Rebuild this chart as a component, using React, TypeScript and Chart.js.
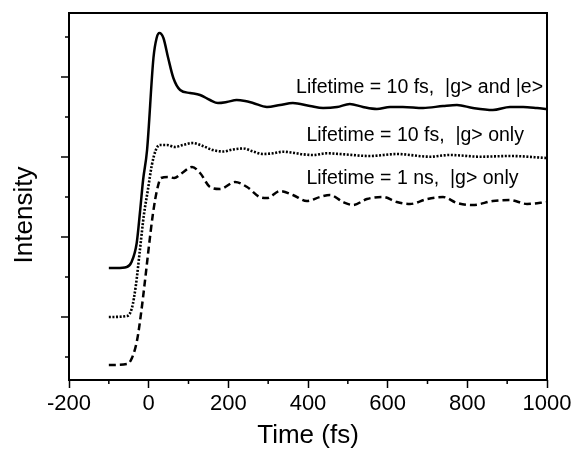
import React, { useEffect, useRef } from "react";
import { Chart, registerables } from "chart.js";

Chart.register(...registerables);

// Time axis (fs) and intensity values
const solidTime = [-100, -80, -55, -43, -30, -22, -14, -4, 12, 20, 27, 37, 49, 62, 79, 104, 129, 154, 174, 196, 221, 242, 262, 297, 330, 362, 405, 438, 473, 505, 538, 573, 606, 638, 689, 739, 774, 814, 864, 907, 940, 975, 1000];
const solidIntensity = [8.9, 8.9, 9.0, 9.5, 11.4, 14.4, 17.7, 20.7, 29.9, 31.9, 32.4, 31.9, 29.9, 27.9, 26.7, 26.4, 26.2, 25.7, 25.4, 25.5, 25.7, 25.6, 25.4, 25.0, 25.2, 25.4, 25.1, 24.9, 25.0, 25.3, 25.0, 24.8, 25.0, 25.0, 24.9, 25.1, 25.2, 24.9, 24.7, 25.0, 25.0, 24.9, 24.8];

const dottedTime = [-100, -54, -42, -32, -22, -12, -2, 8, 18, 28, 46, 66, 86, 111, 136, 161, 187, 212, 237, 262, 287, 312, 337, 362, 387, 412, 448, 480, 556, 623, 706, 756, 832, 907, 1000];
const dottedIntensity = [4.0, 4.1, 4.9, 7.2, 10.7, 14.2, 16.7, 19.2, 20.7, 21.2, 21.2, 21.0, 21.2, 21.4, 21.1, 20.7, 20.55, 20.75, 20.85, 20.55, 20.3, 20.37, 20.53, 20.43, 20.27, 20.2, 20.37, 20.3, 20.1, 20.3, 20.03, 20.2, 20.03, 20.1, 19.9];

const dashedTime = [-100, -54, -42, -29, -19, -9, 1, 11, 21, 31, 49, 64, 84, 109, 129, 154, 179, 217, 247, 279, 297, 330, 362, 397, 430, 455, 488, 513, 548, 588, 623, 656, 699, 739, 774, 814, 864, 907, 950, 1000];
const dashedIntensity = [-0.8, -0.7, -0.1, 1.7, 4.4, 7.7, 11.2, 14.4, 16.7, 17.9, 18.0, 17.9, 18.4, 19.0, 18.4, 17.0, 16.8, 17.5, 17.0, 16.0, 15.9, 16.6, 16.2, 15.6, 16.0, 16.2, 15.5, 15.2, 15.8, 16.0, 15.5, 15.3, 15.8, 16.0, 15.4, 15.2, 15.6, 15.7, 15.3, 15.5];

// Axis ticks
const xMinorTicks = [-100, 100, 300, 500, 700, 900];
const yMajorTicks = [4, 12, 20, 28];
const yMinorTicks = [0, 8, 16, 24, 32];

// Curve annotations (anchored in data coordinates)
const labelTexts = ["Lifetime = 10 fs,  |g> and |e>", "Lifetime = 10 fs,  |g> only", "Lifetime = 1 ns,  |g> only"];
const labelTime = [370, 396, 396];
const labelIntensity = [26.9, 22.1, 17.8];

const xTitle = "Time (fs)";
const yTitle = "Intensity";

const FONT = '"Liberation Sans", Arial, Helvetica, sans-serif';

const zip = (xs: number[], ys: number[]) => xs.map((x, i) => ({ x, y: ys[i] }));

const decorPlugin = {
  id: "decor",
  afterDraw(chart: any) {
    const { ctx, chartArea: a, scales } = chart;
    const xs = scales.x;
    const ys = scales.y;
    ctx.save();
    ctx.strokeStyle = "#000";
    ctx.lineWidth = 2;
    ctx.strokeRect(a.left, a.top, a.right - a.left, a.bottom - a.top);
    ctx.lineWidth = 1.5;
    ctx.beginPath();
    for (const v of xMinorTicks) {
      const px = xs.getPixelForValue(v);
      ctx.moveTo(px, a.bottom);
      ctx.lineTo(px, a.bottom + 4);
    }
    for (const v of yMajorTicks) {
      const py = ys.getPixelForValue(v);
      ctx.moveTo(a.left, py);
      ctx.lineTo(a.left - 8, py);
    }
    for (const v of yMinorTicks) {
      const py = ys.getPixelForValue(v);
      ctx.moveTo(a.left, py);
      ctx.lineTo(a.left - 4, py);
    }
    ctx.stroke();

    ctx.fillStyle = "#000";
    ctx.font = `19.5px ${FONT}`;
    ctx.textAlign = "left";
    ctx.textBaseline = "middle";
    labelTexts.forEach((t, i) => {
      ctx.fillText(t, xs.getPixelForValue(labelTime[i]), ys.getPixelForValue(labelIntensity[i]));
    });

    ctx.font = `26px ${FONT}`;
    ctx.textAlign = "center";
    ctx.fillText(xTitle, (a.left + a.right) / 2, 436);
    ctx.translate(25, 215);
    ctx.rotate(-Math.PI / 2);
    ctx.fillText(yTitle, 0, 0);
    ctx.restore();
  },
};

export default function App() {
  const ref = useRef<HTMLCanvasElement>(null);
  useEffect(() => {
    if (!ref.current) return;
    const line = { pointRadius: 0, borderColor: "#000", borderWidth: 2.5, cubicInterpolationMode: "monotone" as const, fill: false };
    const chart = new Chart(ref.current, {
      type: "line",
      data: {
        datasets: [
          { ...line, data: zip(solidTime, solidIntensity) },
          { ...line, borderWidth: 2.6, borderDash: [2, 1.6], data: zip(dottedTime, dottedIntensity) },
          { ...line, borderDash: [7, 4], data: zip(dashedTime, dashedIntensity) },
        ],
      },
      options: {
        animation: false,
        responsive: false,
        layout: { padding: { left: 0, top: 13, right: 24, bottom: 0 } },
        plugins: { legend: { display: false }, tooltip: { enabled: false } },
        scales: {
          x: {
            type: "linear",
            min: -200,
            max: 1000,
            ticks: {
              stepSize: 200,
              color: "#000",
              font: { size: 22, family: FONT },
              padding: 3,
              maxRotation: 0,
              autoSkip: false,
              callback: (v: any) => String(v),
            },
            grid: { display: true, drawOnChartArea: false, drawTicks: true, tickLength: 8, tickWidth: 1.5, tickColor: "#000" },
            border: { display: false },
            afterFit: (s: any) => {
              s.height = 69;
              s.paddingLeft = 0;
              s.paddingRight = 0;
            },
          },
          y: {
            type: "linear",
            min: -2.3,
            max: 34.4,
            ticks: { display: false },
            grid: { display: false },
            border: { display: false },
            afterFit: (s: any) => {
              s.width = 69;
            },
          },
        },
      },
      plugins: [decorPlugin],
    });
    return () => chart.destroy();
  }, []);
  return (
    <div style={{ position: "fixed", left: 0, top: 0, width: 571, height: 449, background: "#fff" }}>
      <canvas ref={ref} width={571} height={449} />
    </div>
  );
}
